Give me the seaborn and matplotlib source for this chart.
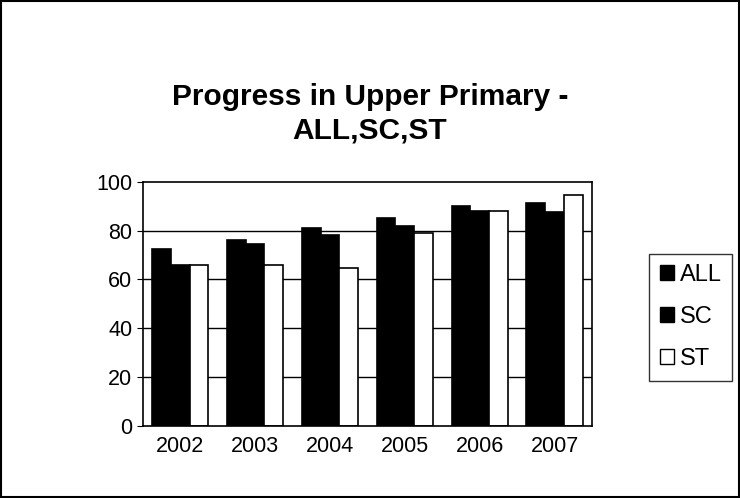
import matplotlib.pyplot as plt
import pandas as pd
import seaborn as sns
from matplotlib.patches import Rectangle

years = ["2002", "2003", "2004", "2005", "2006", "2007"]
all_vals = [72.5, 76, 81, 85, 90, 91.5]
sc_vals = [66, 74.5, 78, 82, 88, 87.5]
st_vals = [66, 66, 64.5, 79, 88, 94.5]
groups = ["ALL", "SC", "ST"]

df = pd.DataFrame({
    "year": years * 3,
    "value": all_vals + sc_vals + st_vals,
    "group": ["ALL"] * 6 + ["SC"] * 6 + ["ST"] * 6,
})

sns.set_style("white")
plt.rcParams["font.family"] = ["Liberation Sans", "DejaVu Sans"]
plt.rcParams["text.color"] = "black"
plt.rcParams["xtick.color"] = "black"
plt.rcParams["ytick.color"] = "black"

fig = plt.figure(figsize=(7.4, 4.98), dpi=100)
ax = fig.add_axes([0.193, 0.145, 0.607, 0.49])

palette = {"ALL": "black", "SC": "black", "ST": "white"}
sns.barplot(data=df, x="year", y="value", hue="group", hue_order=groups,
            palette=palette, width=0.75, edgecolor="black", linewidth=1.2,
            ax=ax, legend=False)

ax.set_ylim(0, 100)
ax.set_yticks([0, 20, 40, 60, 80, 100])
for y in [20, 40, 60, 80]:
    ax.axhline(y, color="black", linewidth=1, zorder=0)
ax.set_xlabel("")
ax.set_ylabel("")
ax.tick_params(axis="both", labelsize=15.5, length=4, color="black")
ax.tick_params(axis="y", direction="out", left=True)
for side in ["top", "right", "left", "bottom"]:
    ax.spines[side].set_visible(True)
    ax.spines[side].set_color("black")
    ax.spines[side].set_linewidth(1.2)

fig.text(0.5, 0.772, "Progress in Upper Primary -\nALL,SC,ST", ha="center",
         va="center", fontsize=21.5, fontweight="bold", linespacing=1.25)

# legend
handles = [Rectangle((0, 0), 1, 1, facecolor=palette[g], edgecolor="black")
           for g in groups]
leg = fig.legend(handles, groups, loc="center left", bbox_to_anchor=(0.877, 0.363),
                 fontsize=17, frameon=True, fancybox=False, handlelength=0.6,
                 handleheight=0.6, handletextpad=0.25, labelspacing=0.85,
                 borderpad=0.45, borderaxespad=0, edgecolor="black")
leg.get_frame().set_linewidth(1)

fig.patches.append(Rectangle((0.002, 0.002), 0.996, 0.996, transform=fig.transFigure,
                             fill=False, edgecolor="black", linewidth=1.5))

plt.savefig("out.png", dpi=100)
